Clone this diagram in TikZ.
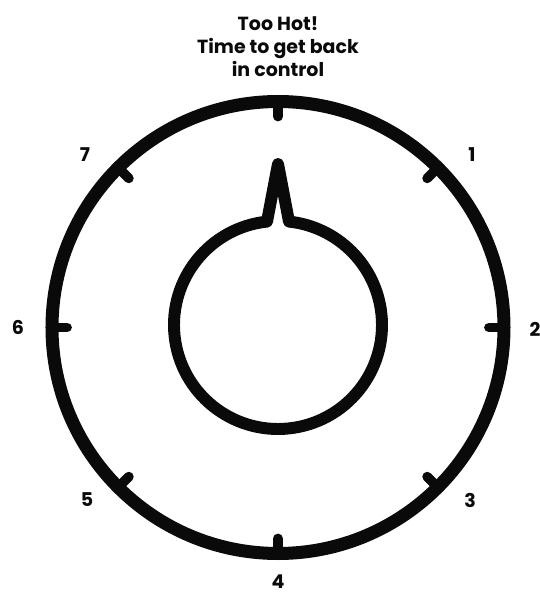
\documentclass[tikz,border=0pt]{standalone}
\usepackage{fontspec}
\setsansfont{Poppins}
\usepackage{xcolor}
\usepackage{tikz}
\usetikzlibrary{calc}
\definecolor{dialink}{HTML}{0A0A0A}
\tikzset{every node/.append style={font=\sffamily\bfseries\fontsize{10.8}{13.1}\selectfont,text=dialink}}
\tikzset{
  rim/.style={draw=dialink,line width=7.4pt},
  knob/.style={draw=dialink,line width=6.8pt,line join=round},
  tick/.style={draw=dialink,line width=5.6pt,line cap=round},
  numlabel/.style={inner sep=0pt}
}

\begin{document}
\begin{tikzpicture}[x=0.02cm,y=0.02cm]
  % Page frame, one unit = one pixel of the 539x595 sheet.
  \useasboundingbox[fill=white] (-278,-267.5) rectangle (261,327.5);
  \node[align=center] (title) at (0,281) {Too Hot!\\Time to get back\\in control};
  % Outer dial and its eight ticks.
  \coordinate (o) at (0,0);
  \draw[rim] (o) circle (226);
  \foreach \a in {0,45,...,315} {
    \draw[tick] ($(o)+(\a:226)$) -- ($(o)+(\a:211)$);
  }
  \foreach \x/\y/\n in {194/172.5/1,257/-2/2,192/-172.5/3,0/-254.5/4,-191/-172.5/5,-260/0/6,-193/172.5/7} {
    \node[numlabel] (lab\n) at ($(o)+(\x,\y)$) {\n};
  }
  % Knob with its pointer, one closed outline.
  \coordinate (k) at (0,2.5);
  \draw[knob] ($(k)+(96.07:104)$) arc[start angle=96.07,end angle=443.93,radius=104]
    -- ($(k)+(0,161)$) -- cycle;
\end{tikzpicture}
\end{document}
